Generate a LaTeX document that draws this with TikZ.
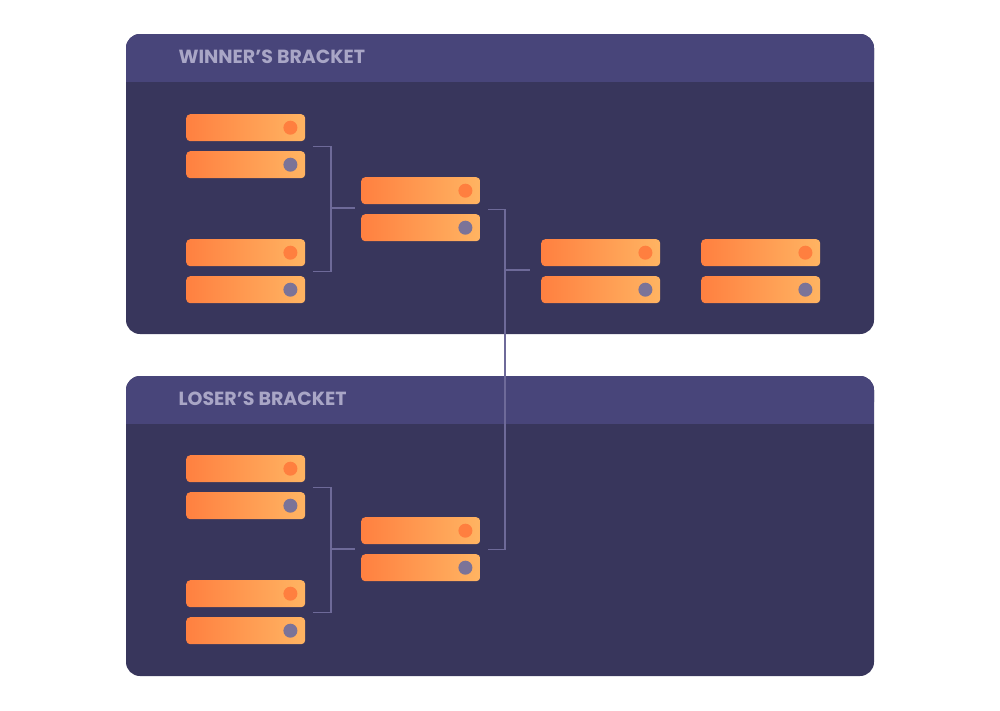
\documentclass[tikz,border=0pt]{standalone}
\usepackage{fontspec}
\setsansfont{Poppins}
\usetikzlibrary{positioning,calc}
\definecolor{panelbody}{HTML}{38365C}
\definecolor{panelhead}{HTML}{48457A}
\definecolor{headtext}{HTML}{A9A6C6}
\definecolor{slotlo}{HTML}{FF8040}
\definecolor{slothi}{HTML}{FFB462}
\definecolor{dotwin}{HTML}{FF7F3F}
\definecolor{dotlose}{HTML}{7B7398}
\definecolor{wire}{HTML}{6E6A99}
\tikzset{
  slot/.style={rectangle,rounded corners=4pt,minimum width=119pt,minimum height=27pt,
    inner sep=0pt,left color=slotlo,right color=slothi,anchor=north west},
  dot/.style={circle,minimum size=14pt,inner sep=0pt},
  wire/.style={draw=wire,line width=1.2pt},
  title/.style={font=\sffamily\bfseries\fontsize{19}{22}\selectfont,text=headtext,anchor=west}
}
\begin{document}
\begin{tikzpicture}[x=1pt,y=-1pt]
\useasboundingbox (0,0) rectangle (1000,710);

% panels
\foreach \top/\name/\lab in {34/wb/{WINNER’S BRACKET},376/lb/{LOSER’S BRACKET}} {
  \fill[panelbody,rounded corners=14pt] (126,\top) rectangle (874,\top+300);
  \fill[panelhead,rounded corners=14pt] (126,\top) rectangle (874,\top+40);
  \fill[panelhead] (126,\top+20) rectangle (874,\top+48);
  \node[title] (\name) at (175,\top+23) {\lab};
}

% slots: name / x / top
\foreach \n/\x/\y in {w1/186/114,w2/186/239,w3/361/177,w4/541/239,w5/701/239,
                      l1/186/455,l2/186/580,l3/361/517} {
  \node[slot] (\n a) at (\x,\y) {};
  \node[slot] (\n b) at (\x,\y+37) {};
  \node[dot,fill=dotwin] (\n ad) at ($(\n a.east)+(-15,0)$) {};
  \node[dot,fill=dotlose] (\n bd) at ($(\n b.east)+(-15,0)$) {};
  \coordinate (\n m) at ($(\n a.south east)!.5!(\n b.north east)+(8,0)$);
}

% connectors
\coordinate (j1) at (331,208);
\coordinate (j2) at (505,270);
\coordinate (j3) at (331,549);
\draw[wire] (w1m) -| (j1) |- (w2m);
\draw[wire] (j1) -- ++(24,0);
\draw[wire] (w3m) -| (j2) |- (l3m);
\draw[wire] (j2) -- ++(25,0);
\draw[wire] (l1m) -| (j3) |- (l2m);
\draw[wire] (j3) -- ++(24,0);
\end{tikzpicture}
\end{document}
